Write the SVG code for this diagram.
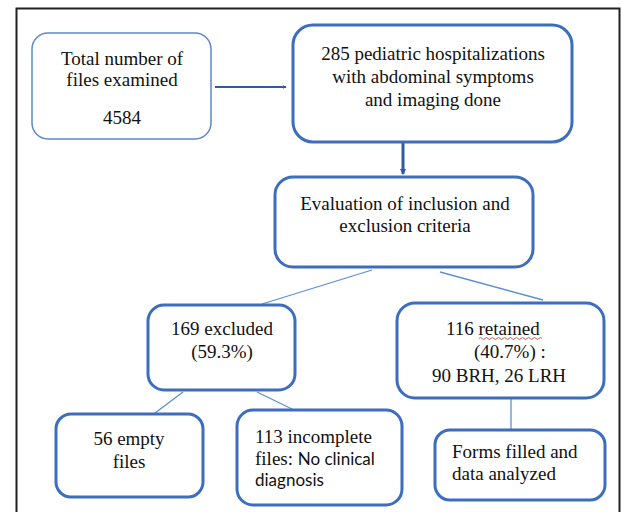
<svg xmlns="http://www.w3.org/2000/svg" width="622" height="512" viewBox="0 0 622 512">
<defs>
<style>
.box{fill:#fff;stroke:#3d6dbf;stroke-width:3}
.thin{fill:#fff;stroke:#5b89c8;stroke-width:1.5}
.t{font-family:'Liberation Serif','Times New Roman',Times,serif;font-size:19px;fill:#111}
.s{font-family:Lato,'Liberation Sans',sans-serif;font-size:17px;fill:#111}
.c{text-anchor:middle}
.ln{stroke:#5b8fd6;stroke-width:1.3;fill:none}
.ar{stroke:#2e5aa8;fill:none}
</style>
<marker id="ah" viewBox="0 0 6 6" refX="5" refY="3" markerWidth="4" markerHeight="4" orient="auto" markerUnits="userSpaceOnUse">
<path d="M0,0 L6,3 L0,6 z" fill="#2e5aa8"/>
</marker>
<marker id="ah2" viewBox="0 0 6 6" refX="5" refY="3" markerWidth="6" markerHeight="6" orient="auto" markerUnits="userSpaceOnUse">
<path d="M0,0 L6,3 L0,6 z" fill="#2e5aa8"/>
</marker>
</defs>
<rect x="0" y="0" width="622" height="512" fill="#fff"/>
<rect x="16.5" y="8.5" width="603" height="520" fill="none" stroke="#222" stroke-width="2"/>

<g id="connectors">
<line class="ar" x1="215" y1="87" x2="286" y2="87" stroke-width="2" marker-end="url(#ah)"/>
<line class="ar" x1="403" y1="142" x2="403" y2="174" stroke-width="3" marker-end="url(#ah2)"/>
<line class="ln" x1="372" y1="270" x2="262" y2="304"/>
<line class="ln" x1="440" y1="272" x2="543" y2="300"/>
<line class="ln" x1="183" y1="392" x2="155" y2="413"/>
<line class="ln" x1="257" y1="392" x2="292" y2="409"/>
<line class="ln" x1="511" y1="398" x2="511" y2="430"/>
</g>

<g id="total">
<rect class="thin" x="32" y="33" width="179" height="106" rx="16"/>
<text class="t c" x="122" y="65">Total number of</text>
<text class="t c" x="122" y="86">files examined</text>
<text class="t c" x="122" y="124">4584</text>
</g>

<g id="hosp">
<rect class="box" x="293" y="25" width="279" height="117" rx="20"/>
<text class="t c" x="433" y="60">285 pediatric hospitalizations</text>
<text class="t c" x="433" y="83">with abdominal symptoms</text>
<text class="t c" x="433" y="106">and imaging  done</text>
</g>

<g id="eval">
<rect class="box" x="275" y="177" width="258" height="90" rx="18"/>
<text class="t c" x="405" y="210">Evaluation of inclusion and</text>
<text class="t c" x="405" y="232">exclusion criteria</text>
</g>

<g id="excluded">
<rect class="box" x="148" y="305" width="147" height="85" rx="16"/>
<text class="t c" x="222" y="335">169 excluded</text>
<text class="t c" x="222" y="358">(59.3%)</text>
</g>

<g id="retained">
<rect class="box" x="397" y="303" width="207" height="95" rx="18"/>
<text class="t" x="446" y="335">116 retained</text>
<path d="M479,338.5 q1.5,-2 3,0 t3,0 t3,0 t3,0 t3,0 t3,0 t3,0 t3,0 t3,0 t3,0 t3,0 t3,0 t3,0 t3,0 t3,0 t3,0 t3,0 t3,0 t3,0 t3,0 t3,0" fill="none" stroke="#d9403a" stroke-width="0.9"/>
<text class="t" x="474" y="358">(40.7%) :</text>
<text class="t" x="432" y="382">90 BRH, 26 LRH</text>
</g>

<g id="empty">
<rect class="box" x="56" y="414" width="147" height="83" rx="15"/>
<text class="t c" x="129" y="445">56 empty</text>
<text class="t c" x="129" y="468">files</text>
</g>

<g id="incomplete">
<rect class="box" x="237" y="410" width="165" height="95" rx="16"/>
<text class="t" x="255" y="443">113 incomplete</text>
<text x="255" y="465"><tspan class="t">files: </tspan><tspan class="s">No clinical</tspan></text>
<text class="s" x="255" y="486">diagnosis</text>
</g>

<g id="forms">
<rect class="box" x="435" y="430" width="170" height="70" rx="15"/>
<text class="t" x="452" y="458">Forms filled and</text>
<text class="t" x="452" y="480">data analyzed</text>
</g>
</svg>
